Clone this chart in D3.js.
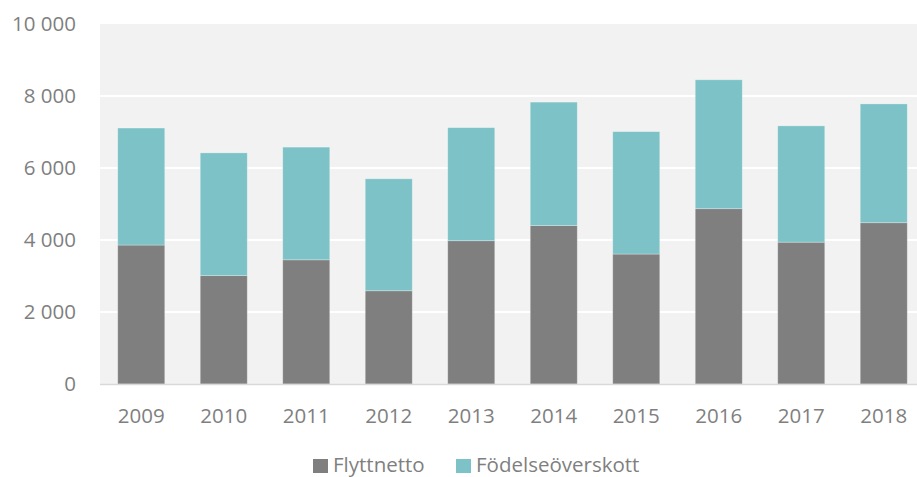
<!DOCTYPE html>
<html>
<head>
<meta charset="utf-8">
<script src="https://cdnjs.cloudflare.com/ajax/libs/d3/7.8.5/d3.min.js"></script>
<style>
  body { margin: 0; background: #fff; overflow: hidden; }
  text { font-family: "Open Sans", sans-serif; fill: #7f7f7f; }
</style>
</head>
<body>
<div id="chart"></div>
<script>
var years = ["2009", "2010", "2011", "2012", "2013", "2014", "2015", "2016", "2017", "2018"];
var flyttnetto = [3860, 3010, 3450, 2590, 3980, 4400, 3610, 4870, 3940, 4480];
var totals = [7110, 6420, 6580, 5700, 7120, 7830, 7010, 8450, 7170, 7780];
var yTicks = [0, 2000, 4000, 6000, 8000, 10000];
var seriesNames = ["Flyttnetto", "Födelseöverskott"];
var colors = ["#7f7f7f", "#7cc2c6"];

var width = 917, height = 477;
var svg = d3.select("#chart").append("svg")
    .attr("width", width)
    .attr("height", height);

var data = years.map(function (y, i) {
    return { year: y, Flyttnetto: flyttnetto[i], "Födelseöverskott": totals[i] - flyttnetto[i] };
});

var x = d3.scaleBand().domain(years).range([100, 925]).paddingInner(0.43).paddingOuter(0.215);
var y = d3.scaleLinear().domain([0, 10000]).range([384, 24]);

// plot background
svg.append("rect")
    .attr("x", 100).attr("y", y(10000))
    .attr("width", width - 100).attr("height", y(0) - y(10000))
    .attr("fill", "#f2f2f2");

// grid
svg.selectAll(".grid")
    .data(yTicks.slice(1, -1))
    .enter().append("line")
    .attr("x1", 100).attr("x2", width)
    .attr("y1", function (d) { return y(d); })
    .attr("y2", function (d) { return y(d); })
    .attr("stroke", "#fff")
    .attr("stroke-width", 2);

var stack = d3.stack().keys(seriesNames);
var layers = stack(data);

svg.selectAll(".layer")
    .data(layers)
    .enter().append("g")
    .attr("fill", function (d, i) { return colors[i]; })
    .selectAll("rect")
    .data(function (d) { return d; })
    .enter().append("rect")
    .attr("x", function (d) { return x(d.data.year); })
    .attr("width", x.bandwidth())
    .attr("y", function (d) { return y(d[1]); })
    .attr("height", function (d) { return y(d[0]) - y(d[1]); })
    .attr("stroke", "rgba(255,255,255,0.35)")
    .attr("stroke-width", 0.8);

// baseline
svg.append("line")
    .attr("x1", 100).attr("x2", width)
    .attr("y1", y(0) + 0.5).attr("y2", y(0) + 0.5)
    .attr("stroke", "#d9d9d9")
    .attr("stroke-width", 1.5);

// y labels
var fmt = function (d) { return d3.format(",")(d).replace(/,/g, " "); };
svg.selectAll(".ylab")
    .data(yTicks)
    .enter().append("text")
    .attr("x", 76)
    .attr("y", function (d) { return y(d); })
    .attr("dy", "0.35em")
    .attr("text-anchor", "end")
    .style("font-size", "20.5px")
    .text(fmt);

// x labels
svg.selectAll(".xlab")
    .data(years)
    .enter().append("text")
    .attr("x", function (d) { return x(d) + x.bandwidth() / 2; })
    .attr("y", 423)
    .attr("text-anchor", "middle")
    .style("font-size", "20.5px")
    .text(function (d) { return d; });

// legend
var legendX = [313, 456];
var legend = svg.selectAll(".legend")
    .data(seriesNames)
    .enter().append("g")
    .attr("transform", function (d, i) { return "translate(" + legendX[i] + ",0)"; });
legend.append("rect")
    .attr("x", 0).attr("y", 459)
    .attr("width", 15).attr("height", 14)
    .attr("fill", function (d, i) { return colors[i]; });
legend.append("text")
    .attr("x", 20).attr("y", 471.5)
    .style("font-size", "20.5px")
    .text(function (d) { return d; });
</script>
</body>
</html>
